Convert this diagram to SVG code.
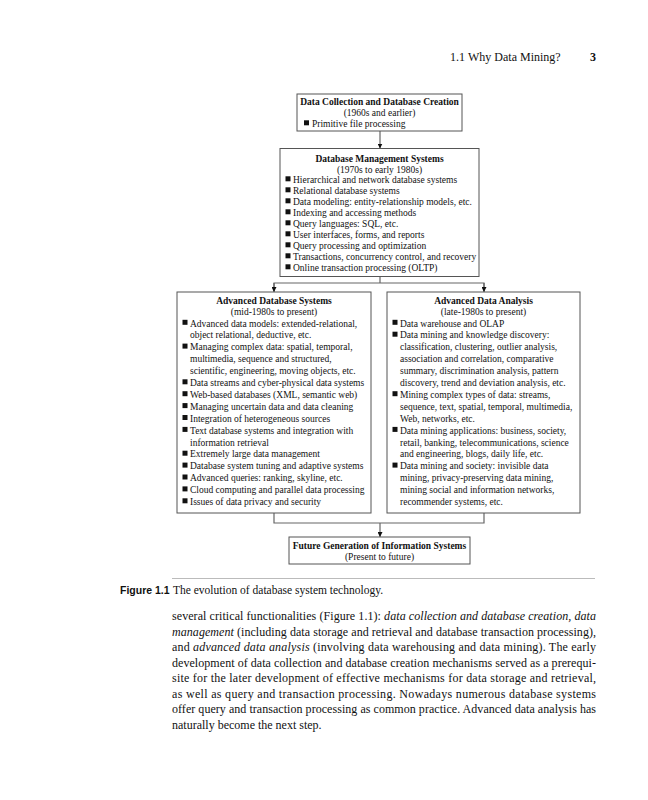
<svg xmlns="http://www.w3.org/2000/svg" xmlns:xlink="http://www.w3.org/1999/xlink" width="648" height="800" viewBox="0 0 648 800">
<defs>
<style>
.box{fill:#fff;stroke:#555;stroke-width:1}
.t{font-family:"Liberation Serif","Times New Roman",serif;font-size:9.5px;fill:#111}
.tb{font-family:"Liberation Serif","Times New Roman",serif;font-size:9.5px;font-weight:bold;fill:#111;text-anchor:middle}
.tc{text-anchor:middle}
.con{fill:none;stroke:#666;stroke-width:1.2}
.hdr{font-family:"Liberation Serif","Times New Roman",serif;font-size:12px;fill:#111}
.cap{font-family:"Liberation Serif","Times New Roman",serif;font-size:11.5px;fill:#111}
.capb{font-family:"Liberation Sans",Arial,sans-serif;font-size:10.5px;font-weight:bold;fill:#111}
.p{font-family:"Liberation Serif","Times New Roman",serif;font-size:12px;fill:#111}
.i{font-style:italic}
.bl{fill:#111}
</style>
<rect id="b" width="5" height="5"/>
<marker id="ah" viewBox="0 0 10 10" refX="10" refY="5" markerWidth="5" markerHeight="5" orient="auto" markerUnits="userSpaceOnUse">
<path d="M0,0 L10,5 L0,10 z" fill="#111"/>
</marker>
</defs>
<rect width="648" height="800" fill="#fff"/>

<g id="header">
<text class="hdr" x="450" y="61">1.1</text>
<text class="hdr" x="468" y="61">Why Data Mining?</text>
<text class="hdr" x="590" y="61" font-weight="bold">3</text>
</g>

<g id="connectors">
<line class="con" x1="380" y1="131" x2="380" y2="148.5" marker-end="url(#ah)"/>
<polyline class="con" points="380,276.5 380,283"/>
<polyline class="con" points="274,291.5 274,283 484,283 484,291.5"/>
<line class="con" x1="274" y1="283" x2="274" y2="292" marker-end="url(#ah)"/>
<line class="con" x1="484" y1="283" x2="484" y2="292" marker-end="url(#ah)"/>
<polyline class="con" points="274,513 274,523 484,523 484,513"/>
<line class="con" x1="380" y1="523" x2="380" y2="537" marker-end="url(#ah)"/>
</g>

<g id="n-collection">
<rect class="box" x="297" y="94" width="165" height="37"/>
<text class="tb" x="379.5" y="105">Data Collection and Database Creation</text>
<text class="t tc" x="379.5" y="116">(1960s and earlier)</text>
<use xlink:href="#b" class="bl" x="304" y="120.3"/>
<text class="t" x="312" y="127">Primitive file processing</text>
</g>

<g id="n-dbms">
<rect class="box" x="280" y="148.5" width="199" height="128"/>
<text class="tb" x="379.5" y="161.5">Database Management Systems</text>
<text class="t tc" x="379.5" y="172.5">(1970s to early 1980s)</text>
<use xlink:href="#b" class="bl" x="285.5" y="176.3"/>
<text class="t" x="293" y="183">Hierarchical and network database systems</text>
<use xlink:href="#b" class="bl" x="285.5" y="187.3"/>
<text class="t" x="293" y="194">Relational database systems</text>
<use xlink:href="#b" class="bl" x="285.5" y="198.3"/>
<text class="t" x="293" y="205">Data modeling: entity-relationship models, etc.</text>
<use xlink:href="#b" class="bl" x="285.5" y="209.3"/>
<text class="t" x="293" y="216">Indexing and accessing methods</text>
<use xlink:href="#b" class="bl" x="285.5" y="220.3"/>
<text class="t" x="293" y="227">Query languages: SQL, etc.</text>
<use xlink:href="#b" class="bl" x="285.5" y="231.3"/>
<text class="t" x="293" y="238">User interfaces, forms, and reports</text>
<use xlink:href="#b" class="bl" x="285.5" y="242.3"/>
<text class="t" x="293" y="249">Query processing and optimization</text>
<use xlink:href="#b" class="bl" x="285.5" y="253.3"/>
<text class="t" x="293" y="260">Transactions, concurrency control, and recovery</text>
<use xlink:href="#b" class="bl" x="285.5" y="264.3"/>
<text class="t" x="293" y="271">Online transaction processing (OLTP)</text>
</g>

<g id="n-advdb">
<rect class="box" x="177" y="292" width="194" height="221"/>
<text class="tb" x="274" y="303.5">Advanced Database Systems</text>
<text class="t tc" x="274" y="314.5">(mid-1980s to present)</text>
<use xlink:href="#b" class="bl" x="182.5" y="319.8"/>
<text class="t" x="190" y="326.5">Advanced data models: extended-relational,</text>
<text class="t" x="190" y="338.4">object relational, deductive, etc.</text>
<use xlink:href="#b" class="bl" x="182.5" y="343.6"/>
<text class="t" x="190" y="350.3">Managing complex data: spatial, temporal,</text>
<text class="t" x="190" y="362.2">multimedia, sequence and structured,</text>
<text class="t" x="190" y="374.1">scientific, engineering, moving objects, etc.</text>
<use xlink:href="#b" class="bl" x="182.5" y="379.3"/>
<text class="t" x="190" y="386">Data streams and cyber-physical data systems</text>
<use xlink:href="#b" class="bl" x="182.5" y="391.2"/>
<text class="t" x="190" y="397.9">Web-based databases (XML, semantic web)</text>
<use xlink:href="#b" class="bl" x="182.5" y="403.1"/>
<text class="t" x="190" y="409.8">Managing uncertain data and data cleaning</text>
<use xlink:href="#b" class="bl" x="182.5" y="415"/>
<text class="t" x="190" y="421.7">Integration of heterogeneous sources</text>
<use xlink:href="#b" class="bl" x="182.5" y="426.9"/>
<text class="t" x="190" y="433.6">Text database systems and integration with</text>
<text class="t" x="190" y="445.5">information retrieval</text>
<use xlink:href="#b" class="bl" x="182.5" y="450.7"/>
<text class="t" x="190" y="457.4">Extremely large data management</text>
<use xlink:href="#b" class="bl" x="182.5" y="462.6"/>
<text class="t" x="190" y="469.3">Database system tuning and adaptive systems</text>
<use xlink:href="#b" class="bl" x="182.5" y="474.5"/>
<text class="t" x="190" y="481.2">Advanced queries: ranking, skyline, etc.</text>
<use xlink:href="#b" class="bl" x="182.5" y="486.4"/>
<text class="t" x="190" y="493.1">Cloud computing and parallel data processing</text>
<use xlink:href="#b" class="bl" x="182.5" y="498.3"/>
<text class="t" x="190" y="505">Issues of data privacy and security</text>
</g>

<g id="n-analysis">
<rect class="box" x="387" y="292" width="193" height="221"/>
<text class="tb" x="483.5" y="303.5">Advanced Data Analysis</text>
<text class="t tc" x="483.5" y="314.5">(late-1980s to present)</text>
<use xlink:href="#b" class="bl" x="392.5" y="319.8"/>
<text class="t" x="400" y="326.5">Data warehouse and OLAP</text>
<use xlink:href="#b" class="bl" x="392.5" y="331.7"/>
<text class="t" x="400" y="338.4">Data mining and knowledge discovery:</text>
<text class="t" x="400" y="350.3">classification, clustering, outlier analysis,</text>
<text class="t" x="400" y="362.2">association and correlation, comparative</text>
<text class="t" x="400" y="374.1">summary, discrimination analysis, pattern</text>
<text class="t" x="400" y="386">discovery, trend and deviation analysis, etc.</text>
<use xlink:href="#b" class="bl" x="392.5" y="391.2"/>
<text class="t" x="400" y="397.9">Mining complex types of data: streams,</text>
<text class="t" x="400" y="409.8">sequence, text, spatial, temporal, multimedia,</text>
<text class="t" x="400" y="421.7">Web, networks, etc.</text>
<use xlink:href="#b" class="bl" x="392.5" y="426.9"/>
<text class="t" x="400" y="433.6">Data mining applications: business, society,</text>
<text class="t" x="400" y="445.5">retail, banking, telecommunications, science</text>
<text class="t" x="400" y="457.4">and engineering, blogs, daily life, etc.</text>
<use xlink:href="#b" class="bl" x="392.5" y="462.6"/>
<text class="t" x="400" y="469.3">Data mining and society: invisible data</text>
<text class="t" x="400" y="481.2">mining, privacy-preserving data mining,</text>
<text class="t" x="400" y="493.1">mining social and information networks,</text>
<text class="t" x="400" y="505">recommender systems, etc.</text>
</g>

<g id="n-future">
<rect class="box" x="289" y="537" width="181" height="27"/>
<text class="tb" x="379.5" y="548.5">Future Generation of Information Systems</text>
<text class="t tc" x="379.5" y="560">(Present to future)</text>
</g>

<g id="caption">
<line x1="172" y1="578.5" x2="595" y2="578.5" stroke="#bbb" stroke-width="1"/>
<text class="capb" x="120" y="594">Figure 1.1</text>
<text class="cap" x="173" y="594">The evolution of database system technology.</text>
</g>

<g id="body">
<text class="p" x="172" y="620" textLength="424" lengthAdjust="spacing">several critical functionalities (Figure 1.1): <tspan class="i">data collection and database creation, data</tspan></text>
<text class="p" x="172" y="635.5" textLength="424" lengthAdjust="spacing"><tspan class="i">management</tspan> (including data storage and retrieval and database transaction processing),</text>
<text class="p" x="172" y="651" textLength="424" lengthAdjust="spacing">and <tspan class="i">advanced data analysis</tspan> (involving data warehousing and data mining). The early</text>
<text class="p" x="172" y="666.5" textLength="424" lengthAdjust="spacing">development of data collection and database creation mechanisms served as a prerequi-</text>
<text class="p" x="172" y="682" textLength="424" lengthAdjust="spacing">site for the later development of effective mechanisms for data storage and retrieval,</text>
<text class="p" x="172" y="697.5" textLength="424" lengthAdjust="spacing">as well as query and transaction processing. Nowadays numerous database systems</text>
<text class="p" x="172" y="713" textLength="424" lengthAdjust="spacing">offer query and transaction processing as common practice. Advanced data analysis has</text>
<text class="p" x="172" y="728.5">naturally become the next step.</text>
</g>
</svg>
